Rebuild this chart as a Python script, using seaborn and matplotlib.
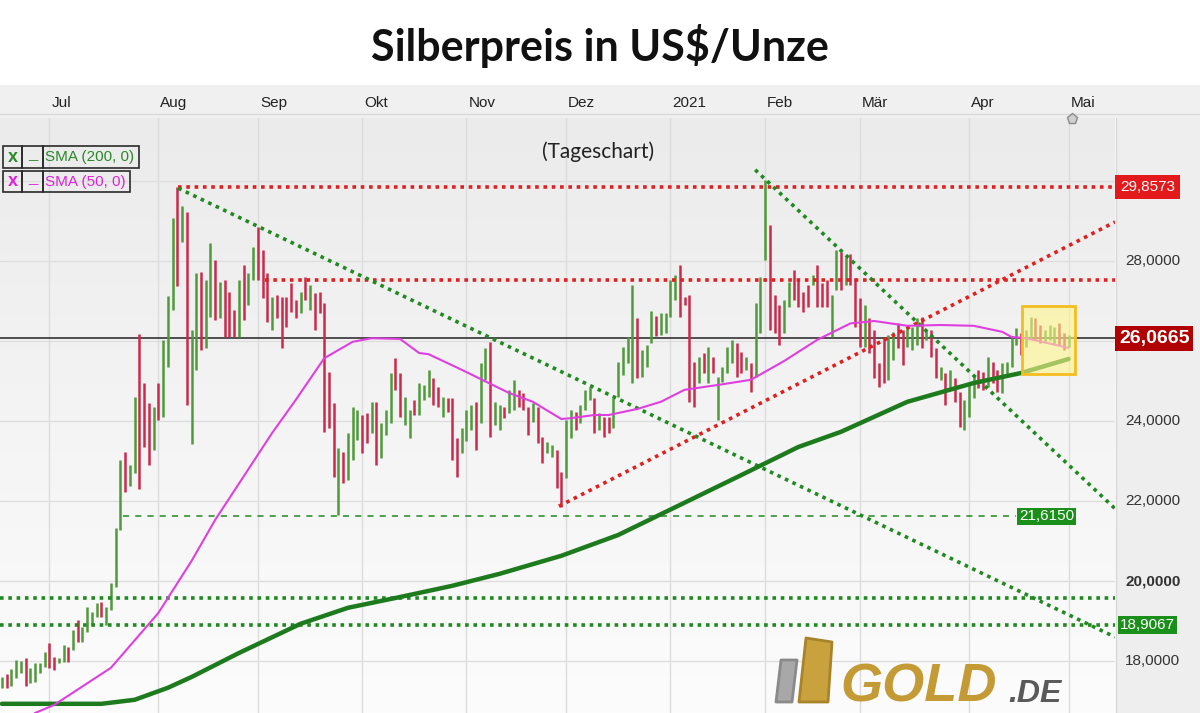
import numpy as np
import pandas as pd
import matplotlib
matplotlib.use("Agg")
import matplotlib.pyplot as plt
import seaborn as sns
from matplotlib.patches import Rectangle, Polygon
from matplotlib.colors import LinearSegmentedColormap

# ---------------- data ----------------
month_labels = ['Jul', 'Aug', 'Sep', 'Okt', 'Nov', 'Dez', '2021', 'Feb', 'Mär', 'Apr', 'Mai']
month_pos = [10, 33, 54, 76, 98, 119, 141, 161, 181, 204, 225]

low = [
    17.32, 17.32, 17.38, 17.57, 17.69, 17.38, 17.44, 17.48, 17.69, 17.86,
    17.82, 17.78, 17.94, 17.98, 17.98, 18.28, 18.48, 18.48, 18.73, 18.90,
    19.11, 19.11, 18.90, 19.27, 19.86, 21.27, 22.23, 22.38, 22.69, 22.30,
    23.36, 22.90, 23.28, 24.03, 24.11, 25.36, 26.78, 27.38, 28.48, 24.40,
    23.43, 25.28, 25.78, 25.82, 26.61, 26.53, 26.57, 26.11, 26.11, 26.11,
    26.11, 26.53, 26.90, 27.53, 27.53, 27.07, 26.48, 26.28, 26.57, 25.82,
    26.36, 26.73, 26.57, 26.69, 27.03, 26.78, 26.28, 26.69, 23.73, 23.82,
    22.61, 21.65, 22.44, 22.53, 23.03, 23.53, 23.19, 23.44, 23.69, 22.90,
    23.07, 23.65, 23.94, 24.78, 24.11, 23.90, 23.57, 24.15, 24.15, 24.53,
    24.61, 24.40, 24.36, 24.11, 24.23, 23.03, 22.61, 23.19, 23.50, 23.78,
    23.28, 23.94, 25.03, 23.61, 23.90, 23.78, 24.07, 24.19, 24.28, 24.36,
    24.28, 23.65, 23.98, 23.44, 22.94, 23.19, 23.11, 22.32, 21.86, 22.57,
    23.57, 23.78, 23.94, 24.28, 24.53, 23.69, 23.78, 23.61, 23.69, 23.82,
    24.61, 25.15, 25.44, 24.94, 25.07, 25.11, 25.36, 25.96, 26.13, 26.15,
    26.19, 26.61, 27.03, 26.61, 26.90, 24.48, 24.36, 24.94, 25.19, 24.94,
    25.19, 24.03, 24.98, 25.19, 25.44, 25.11, 25.19, 25.28, 24.73, 25.11,
    26.19, 28.03, 26.28, 26.19, 25.90, 26.19, 26.86, 27.03, 26.86, 26.73,
    26.86, 27.40, 26.86, 26.86, 26.86, 26.11, 27.28, 27.28, 27.40, 27.40,
    26.36, 25.86, 25.86, 25.69, 25.07, 24.86, 24.94, 25.03, 25.53, 25.82,
    25.40, 25.86, 25.78, 25.90, 25.82, 26.03, 25.61, 25.07, 25.03, 24.40,
    24.82, 24.48, 23.86, 23.78, 24.11, 24.57, 24.82, 24.78, 24.86, 24.94,
    24.73, 24.69, 25.11, 25.36, 25.90, 25.65, 25.86, 26.07, 26.03, 25.94,
    25.98, 26.03, 25.90, 25.90, 25.78, 25.86]

high = [
    17.61, 17.67, 17.79, 18.02, 18.00, 18.07, 17.82, 17.94, 17.94, 18.23,
    18.44, 18.11, 18.07, 18.40, 18.36, 18.78, 19.02, 18.86, 19.36, 19.23,
    19.44, 19.48, 19.36, 19.94, 21.32, 23.03, 23.23, 22.90, 24.61, 26.18,
    24.94, 24.44, 24.36, 24.96, 26.03, 27.13, 29.07, 29.86, 29.38, 29.23,
    26.28, 27.69, 27.73, 27.53, 28.46, 28.03, 27.48, 27.53, 27.23, 26.78,
    27.53, 27.90, 27.69, 28.36, 28.86, 28.28, 27.69, 27.10, 27.15, 27.10,
    27.11, 27.44, 27.03, 27.23, 27.61, 27.40, 27.19, 27.23, 26.94, 25.23,
    24.44, 23.32, 23.23, 23.69, 24.36, 24.28, 24.15, 24.19, 24.48, 24.48,
    23.94, 24.28, 25.19, 25.57, 25.19, 24.61, 24.28, 24.53, 24.94, 24.90,
    25.28, 25.07, 24.86, 24.61, 24.57, 24.57, 23.57, 23.82, 24.28, 24.40,
    24.48, 25.44, 25.82, 25.98, 24.48, 24.40, 24.36, 24.78, 25.03, 24.78,
    24.69, 24.36, 24.44, 24.36, 23.61, 23.48, 23.40, 23.28, 22.73, 24.03,
    24.28, 24.23, 24.40, 24.78, 24.86, 24.57, 24.19, 24.11, 24.11, 24.57,
    25.48, 25.86, 26.11, 27.40, 26.57, 25.78, 25.90, 26.75, 26.63, 26.69,
    26.69, 27.53, 27.65, 27.90, 27.11, 27.15, 25.48, 25.61, 25.69, 25.86,
    25.61, 25.11, 25.36, 25.86, 26.03, 25.94, 25.73, 25.61, 25.44, 26.94,
    27.61, 30.03, 28.90, 27.15, 26.90, 27.03, 27.48, 27.78, 27.53, 27.23,
    27.40, 27.65, 27.90, 27.44, 27.53, 27.15, 28.28, 28.23, 28.10, 28.17,
    27.57, 27.07, 26.90, 26.57, 26.28, 25.44, 26.07, 26.15, 26.23, 26.44,
    26.28, 26.36, 26.36, 26.57, 26.61, 26.28, 26.28, 25.82, 25.36, 25.19,
    25.28, 25.07, 24.73, 24.53, 24.94, 25.15, 25.28, 25.23, 25.61, 25.48,
    25.28, 25.44, 25.48, 26.07, 26.32, 26.19, 26.28, 26.61, 26.57, 26.40,
    26.28, 26.40, 26.36, 26.44, 26.19, 26.15]

direction = ("grgggrgggg" "rrggrgrggg" "grggggrggr" "rrgrgggrgr" "ggrggrgrrr"
             "grggrrrgrr" "rrrgrgrrrr" "rgrgggrrgr" "gggrrggrgg" "grrgrrrggg"
             "rggrggrggr" "rrgrrggrrg" "grgggrgrrg" "ggggrgggrg" "gggrrrrgrg"
             "rggggrrgrg" "ggrrrggrrr" "rgrrrggrgr" "rrgrrrrggr" "rgggrgrrgr"
             "grrgggrrgr" "rggggrggrr" "gggrrg")

sma200_idx = [0, 10, 21, 28, 35, 40, 50, 63, 73, 84, 95, 105, 118, 130, 143, 156, 168, 177, 191, 205, 215, 225]
sma200_val = [16.93, 16.93, 16.93, 17.03, 17.33, 17.6, 18.2, 18.93, 19.33, 19.6, 19.88, 20.18, 20.63,
              21.15, 21.9, 22.65, 23.35, 23.73, 24.48, 24.95, 25.2, 25.55]

sma50_idx = [5, 7, 11, 23, 33, 40, 45, 57, 62, 68, 74, 78, 84, 88, 90, 97, 107, 112, 118, 120,
             125, 128, 134, 139, 144, 151, 158, 165, 172, 179, 184, 191, 198, 205, 211, 213, 216, 225]
sma50_val = [16.5, 16.7, 16.9, 17.83, 19.2, 20.5, 21.53, 23.7, 24.53, 25.57, 25.98, 26.07, 26.05, 25.7,
             25.67, 25.28, 24.7, 24.48, 24.05, 24.07, 24.15, 24.15, 24.3, 24.48, 24.78, 24.9, 25.03,
             25.5, 26.03, 26.44, 26.5, 26.38, 26.4, 26.38, 26.23, 26.1, 26.07, 25.83]

price_ticks = [30, 28, 24, 22, 20, 18]
last_price = 26.0665
aug_high = 29.8573
resistance_mid = 27.52
support_levels = [19.57, 18.9067]
sept_low = 21.6150
# trend lines: (start index, start value, end index, end value)
rising_red = (117.5, 21.87, 234.8, 28.975)
falling_green_1 = (37.2, 29.82, 234.8, 18.6)
falling_green_2 = (158.9, 30.28, 234.8, 21.81)
box_idx = (215.2, 226.4)
box_val = (25.175, 26.875)

# ---------------- layout ----------------
W, H = 1200, 713
XMIN, XMAX = -0.4, 234.8
YMIN, YMAX = 16.7, 31.575

sns.set_theme(style="white")
plt.rcParams['font.family'] = ['Liberation Sans', 'DejaVu Sans']

fig = plt.figure(figsize=(12, 7.13), dpi=100)
fig.patch.set_facecolor('white')


def fx(px):
    return px / W


def fy(py):
    return 1 - py / H


def prect(x0, y0, x1, y1, **kw):
    r = Rectangle((fx(x0), fy(y1)), (x1 - x0) / W, (y1 - y0) / H, transform=fig.transFigure, **kw)
    fig.add_artist(r)
    return r


ax = fig.add_axes([0, 0, fx(1115), (713 - 118) / H])
ax.set_axis_off()

# background gradient
grad = np.linspace(0, 1, 256).reshape(-1, 1)
cmap = LinearSegmentedColormap.from_list('bg', ['#fcfcfc', '#f4f4f4', '#ebebeb'])
ax.imshow(grad, extent=[XMIN, XMAX, YMIN, YMAX], origin='lower', aspect='auto', cmap=cmap, zorder=0)

# grid
for p in month_pos:
    ax.axvline(p, color='#dcdcdc', lw=1, zorder=1)
for t in [18, 20, 22, 24, 26, 28, 30]:
    ax.axhline(t, color='#dedede', lw=1, zorder=1)

GREEN_C = '#4f9a3a'
RED_C = '#cc2a4c'
DOT_RED = '#e0201e'
DOT_GREEN = '#1f8a1f'

# candles
idx = np.arange(len(low))
cols = [GREEN_C if c == 'g' else RED_C for c in direction]
ax.vlines(idx, low, high, colors=cols, lw=1.8, zorder=4)

# last price line
ax.axhline(last_price, color='#222222', lw=1.1, zorder=3)

dot_kw = dict(lw=2.6, dashes=(1, 1.3), dash_capstyle='butt', zorder=6)
# horizontal red
ax.plot([37.2, XMAX], [aug_high, aug_high], color=DOT_RED, **dot_kw)
ax.plot([55.6, XMAX], [resistance_mid, resistance_mid], color=DOT_RED, **dot_kw)
ax.plot([rising_red[0], rising_red[2]], [rising_red[1], rising_red[3]], color=DOT_RED, **dot_kw)
# green
for lv in support_levels:
    ax.plot([XMIN, XMAX], [lv, lv], color=DOT_GREEN, **dot_kw)
for tl in (falling_green_1, falling_green_2):
    ax.plot([tl[0], tl[2]], [tl[1], tl[3]], color=DOT_GREEN, **dot_kw)
ax.plot([25.5, 214.0], [sept_low, sept_low], color=DOT_GREEN, lw=1.1, dashes=(4, 4), zorder=6)

# moving averages
sns.lineplot(x=sma200_idx, y=sma200_val, ax=ax, color='#1d7b1d', lw=3.2, zorder=7)
sns.lineplot(x=sma50_idx, y=sma50_val, ax=ax, color='#df3fdf', lw=1.5, zorder=7)

# highlight box
ax.add_patch(Rectangle((box_idx[0], box_val[0]), box_idx[1] - box_idx[0], box_val[1] - box_val[0],
                       fc=(1.0, 0.96, 0.55, 0.6), ec=(0.96, 0.74, 0.12, 1.0), lw=2, zorder=8))

ax.set_xlim(XMIN, XMAX)
ax.set_ylim(YMIN, YMAX)

# right price axis labels
ytr = ax.get_yaxis_transform()
for t in price_ticks:
    ax.text(1125 / 1115, t, f"{t:.4f}".replace('.', ','), transform=ytr, ha='left', va='center',
            fontsize=11, color='#333333', fontweight='bold' if t == 20 else 'normal', clip_on=False, zorder=9)

ax.text(1120 / 1115, aug_high, f"{aug_high:.4f}".replace('.', ','), transform=ytr, ha='left', va='center',
        fontsize=11, color='white', clip_on=False, zorder=10,
        bbox=dict(boxstyle='square,pad=0.32', fc='#e3191c', ec='none'))
ax.text(1119 / 1115, last_price, f"{last_price:.4f}".replace('.', ','), transform=ytr, ha='left', va='center',
        fontsize=14, fontweight='bold', color='white', clip_on=False, zorder=10,
        bbox=dict(boxstyle='square,pad=0.2', fc='#b00000', ec='none'))
ax.text(1120 / 1115, support_levels[1], f"{support_levels[1]:.4f}".replace('.', ','), transform=ytr,
        ha='left', va='center', fontsize=11, color='white', clip_on=False, zorder=10,
        bbox=dict(boxstyle='square,pad=0.12', fc='#1a8f1a', ec='none'))
ax.text(1074 / 1115, sept_low, f"{sept_low:.4f}".replace('.', ','), transform=ytr,
        ha='right', va='center', fontsize=11, color='white', clip_on=False, zorder=10,
        bbox=dict(boxstyle='square,pad=0.12', fc='#1a8f1a', ec='none'))

# right panel + month band
prect(1116, 118, 1200, 713, fc='#eeeeee', ec='none', zorder=-1)
fig.add_artist(plt.Line2D([fx(1116), fx(1116)], [fy(118), 0], transform=fig.transFigure, color='#d6d6d6', lw=1, zorder=-1))
prect(0, 85, 1200, 118, fc='#f0f0f0', ec='none', zorder=-1)
fig.add_artist(plt.Line2D([0, 1], [fy(114), fy(114)], transform=fig.transFigure, color='#dadada', lw=1, zorder=-1))

x_to_px = lambda i: 1.9 + 4.74 * i
for lab, p in zip(month_labels, month_pos):
    fig.text(fx(x_to_px(p) + 2), fy(103), lab, ha='left', va='center', fontsize=11, color='#222222')
# current-date marker
ax.plot([225.8], [YMAX - 0.02], marker='p', ms=8, mfc='#cfcfcf', mec='#8a8a8a', clip_on=False, zorder=10)

# title and subtitle
fig.text(0.5, fy(46), 'Silberpreis in US$/Unze', ha='center', va='center', fontsize=31,
         fontweight='bold', family=['Lato', 'DejaVu Sans'], color='#111111', parse_math=False)
fig.text(fx(598), fy(152), '(Tageschart)', ha='center', va='center', fontsize=15,
         family=['Lato', 'DejaVu Sans'], color='#222222')

# legend boxes
for (yy0, yy1, x2, col, lab) in [(146, 168, 139, '#2a8a2a', 'SMA (200, 0)'),
                                  (171, 192, 130, '#dd22dd', 'SMA (50, 0)')]:
    for (a, b) in [(3, 22), (22, 43), (43, x2)]:
        prect(a, yy0, b, yy1, fill=False, ec='#2a2a2a', lw=1.2, zorder=6)
    fig.text(fx(12.5), fy((yy0 + yy1) / 2 + 0.5), 'x', ha='center', va='center', fontsize=13,
             fontweight='bold', color=col, zorder=7)
    fig.text(fx(32.5), fy(yy1 - 6), '_', ha='center', va='bottom', fontsize=12,
             fontweight='bold', color=col, zorder=7)
    fig.text(fx(45), fy((yy0 + yy1) / 2 + 0.5), lab, ha='left', va='center', fontsize=11, color=col, zorder=7)

# GOLD.DE logo
fig.add_artist(Polygon([(fx(776), fy(702)), (fx(792), fy(702)), (fx(797), fy(660)), (fx(781), fy(660))],
                       closed=True, transform=fig.transFigure, fc='#a8a8a8', ec='#8a8a8a', lw=2,
                       joinstyle='round', zorder=6))
fig.add_artist(Polygon([(fx(799), fy(702)), (fx(828), fy(702)), (fx(832), fy(642)), (fx(806), fy(638))],
                       closed=True, transform=fig.transFigure, fc='#c9a23e', ec='#a9832a', lw=2,
                       joinstyle='round', zorder=6))
fig.text(fx(840), fy(702), 'GOLD', ha='left', va='baseline', fontsize=39, fontweight='bold',
         style='italic', color='#c49a34', zorder=6)
fig.text(fx(1008), fy(702), '.DE', ha='left', va='baseline', fontsize=23, fontweight='bold',
         style='italic', color='#5a5a5a', zorder=6)

fig.savefig('out.png', dpi=100)
